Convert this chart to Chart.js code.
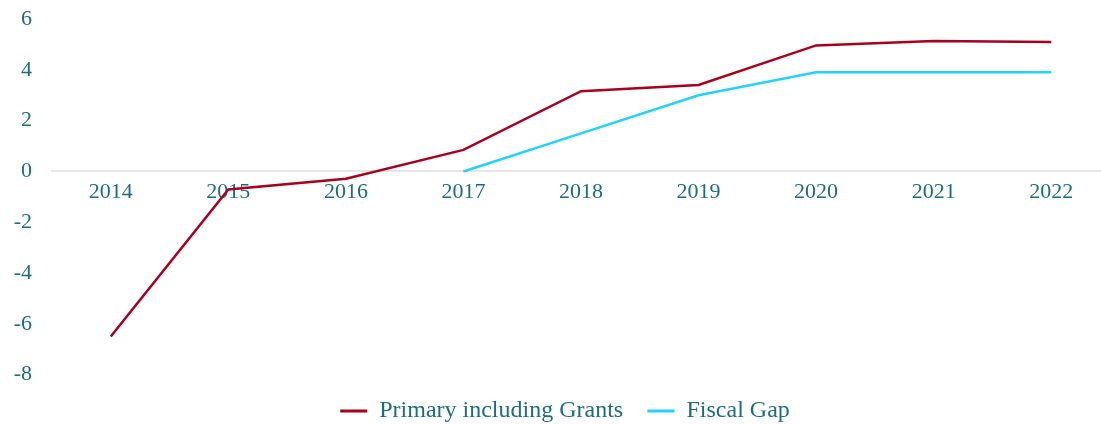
<!DOCTYPE html>
<html>
<head>
<meta charset="utf-8">
<script src="https://cdn.jsdelivr.net/npm/chart.js"></script>
<style>
    html, body { margin: 0; padding: 0; background: #fff; overflow: hidden; }
    #wrap { position: absolute; left: 0; top: 0; width: 1134px; height: 433px; }
</style>
</head>
<body>
<div id="wrap"><canvas id="fiscalChart"></canvas></div>
<script>
// dados
const years = ['2014', '2015', '2016', '2017', '2018', '2019', '2020', '2021', '2022'];
const primaryGrants = [-6.5, -0.71, -0.29, 0.85, 3.16, 3.4, 4.96, 5.13, 5.09];
const fiscalGap = [null, null, null, 0, 1.5, 3.0, 3.9, 3.9, 3.9];
const yTicks = [-8, -6, -4, -2, 0, 2, 4, 6];

const teal = '#1d6c80';
const fontFam = "'Liberation Serif', 'DejaVu Serif', serif";

// empurra a legenda um pouco para a direita
const shiftLegend = {
    id: 'shiftLegend',
    afterLayout(chart) {
        chart.legend.left += 10;
        chart.legend.right += 10;
    }
};

const ctx = document.getElementById('fiscalChart').getContext('2d');
new Chart(ctx, {
    type: 'line',
    data: {
        labels: years,
        datasets: [
            {
                label: 'Primary including Grants',
                data: primaryGrants,
                borderColor: '#a8001f',
                backgroundColor: '#a8001f',
                borderWidth: 2.5,
                pointRadius: 0,
                tension: 0
            },
            {
                label: 'Fiscal Gap',
                data: fiscalGap,
                borderColor: '#22d2ff',
                backgroundColor: '#22d2ff',
                borderWidth: 2.5,
                pointRadius: 0,
                tension: 0
            }
        ]
    },
    options: {
        responsive: true,
        maintainAspectRatio: false,
        animation: false,
        layout: { padding: { top: 19, right: 24, left: 0, bottom: 0 } },
        scales: {
            x: {
                position: { y: 0 },
                offset: true,
                grid: { display: false },
                border: { display: true, color: '#e6e6e6', width: 2 },
                ticks: { color: teal, font: { family: fontFam, size: 22 }, padding: 0, maxRotation: 0 },
                afterFit: (s) => { s.height = 0; }
            },
            y: {
                min: Math.min(...yTicks),
                max: Math.max(...yTicks),
                grid: { display: false },
                border: { display: false },
                afterBuildTicks: (s) => { s.ticks = yTicks.map(v => ({ value: v })); },
                afterFit: (s) => { s.width = 52; s.paddingTop = 0; s.paddingBottom = 0; },
                ticks: { color: teal, font: { family: fontFam, size: 22 }, padding: 12 }
            }
        },
        plugins: {
            tooltip: { enabled: false },
            legend: {
                position: 'bottom',
                labels: {
                    color: teal,
                    font: { family: fontFam, size: 24 },
                    boxWidth: 27,
                    boxHeight: 3,
                    padding: 24.3,
                    generateLabels: (chart) => Chart.defaults.plugins.legend.labels.generateLabels(chart)
                        .map(item => Object.assign(item, { lineWidth: 0 }))
                }
            }
        }
    },
    plugins: [shiftLegend]
});
</script>
</body>
</html>
